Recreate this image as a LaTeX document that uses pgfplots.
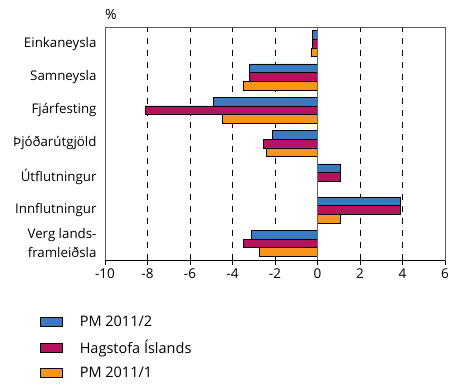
\documentclass[border=0pt]{standalone}
\usepackage{pgfplots}
\pgfplotsset{compat=1.18}
\usepackage{fontspec}
\setmainfont{Open Sans}
\definecolor{cblue}{RGB}{58,122,192}
\definecolor{cmag}{RGB}{183,18,92}
\definecolor{corange}{RGB}{247,148,30}
\begin{document}
\begin{tikzpicture}
\path (-105pt,-125pt) rectangle (353pt,260pt);
\begin{axis}[
 at={(0,0)}, anchor=south west,
 scale only axis, width=340pt, height=233pt,
 xmin=-10, xmax=6, ymin=-0.5, ymax=6.5,
 xtick={-10,-8,...,6},
 ytick={0,...,6},
 yticklabels={{Verg lands-\\framleiðsla},Innflutningur,Útflutningur,Þjóðarútgjöld,Fjárfesting,Samneysla,Einkaneysla},
 yticklabel style={align=right, font=\fontsize{13.3}{19}\selectfont},
 xticklabel style={font=\fontsize{13.5}{15}\selectfont},
 /pgf/number format/assume math mode=true,
 tick align=outside,
 xtick pos=bottom,
 major tick length=5pt,
 xtick style={black, line width=0.8pt},
 ytick style={draw=none},
 axis line style={gray!70!black, line width=0.8pt},
 xmajorgrids,
 grid style={black, line width=0.8pt, dash pattern=on 6pt off 6pt},
 xbar, bar width=0.26,
 legend style={at={(0,0)}, anchor=north west, xshift=-65pt, yshift=-54pt,
   draw=none, fill=none, row sep=8pt, font=\fontsize{14.5}{16}\selectfont,
   inner sep=0pt, /tikz/every odd column/.append style={column sep=15pt}},
 legend cell align=left,
 legend image code/.code={\draw[#1, draw=black, line width=0.6pt] (0pt,-4.5pt) rectangle (22pt,4.5pt);},
 clip=false,
]
\addplot[fill=cblue, draw=black, line width=0.6pt, bar shift=0.26] coordinates {
 (-0.23,6) (-3.2,5) (-4.91,4) (-2.11,3) (1.08,2) (3.9,1) (-3.1,0)};
\addlegendentry{PM 2011/2}
\addplot[fill=cmag, draw=black, line width=0.6pt, bar shift=0] coordinates {
 (-0.23,6) (-3.2,5) (-8.1,4) (-2.53,3) (1.08,2) (3.9,1) (-3.5,0)};
\addlegendentry{Hagstofa Íslands}
\addplot[fill=corange, draw=black, line width=0.6pt, bar shift=-0.26] coordinates {
 (-0.31,6) (-3.5,5) (-4.5,4) (-2.41,3) (0,2) (1.08,1) (-2.72,0)};
\addlegendentry{PM 2011/1}
\draw[gray!80!black, line width=1.2pt] (axis cs:0,-0.5) -- (axis cs:0,6.5);
\draw[black, line width=0.9pt] (axis cs:-10,-0.5) -- (axis cs:6,-0.5);
\node[anchor=south west, font=\fontsize{14}{15}\selectfont, inner sep=0pt] at (rel axis cs:0,1) [yshift=7pt] {\%};
\end{axis}
\end{tikzpicture}
\end{document}
